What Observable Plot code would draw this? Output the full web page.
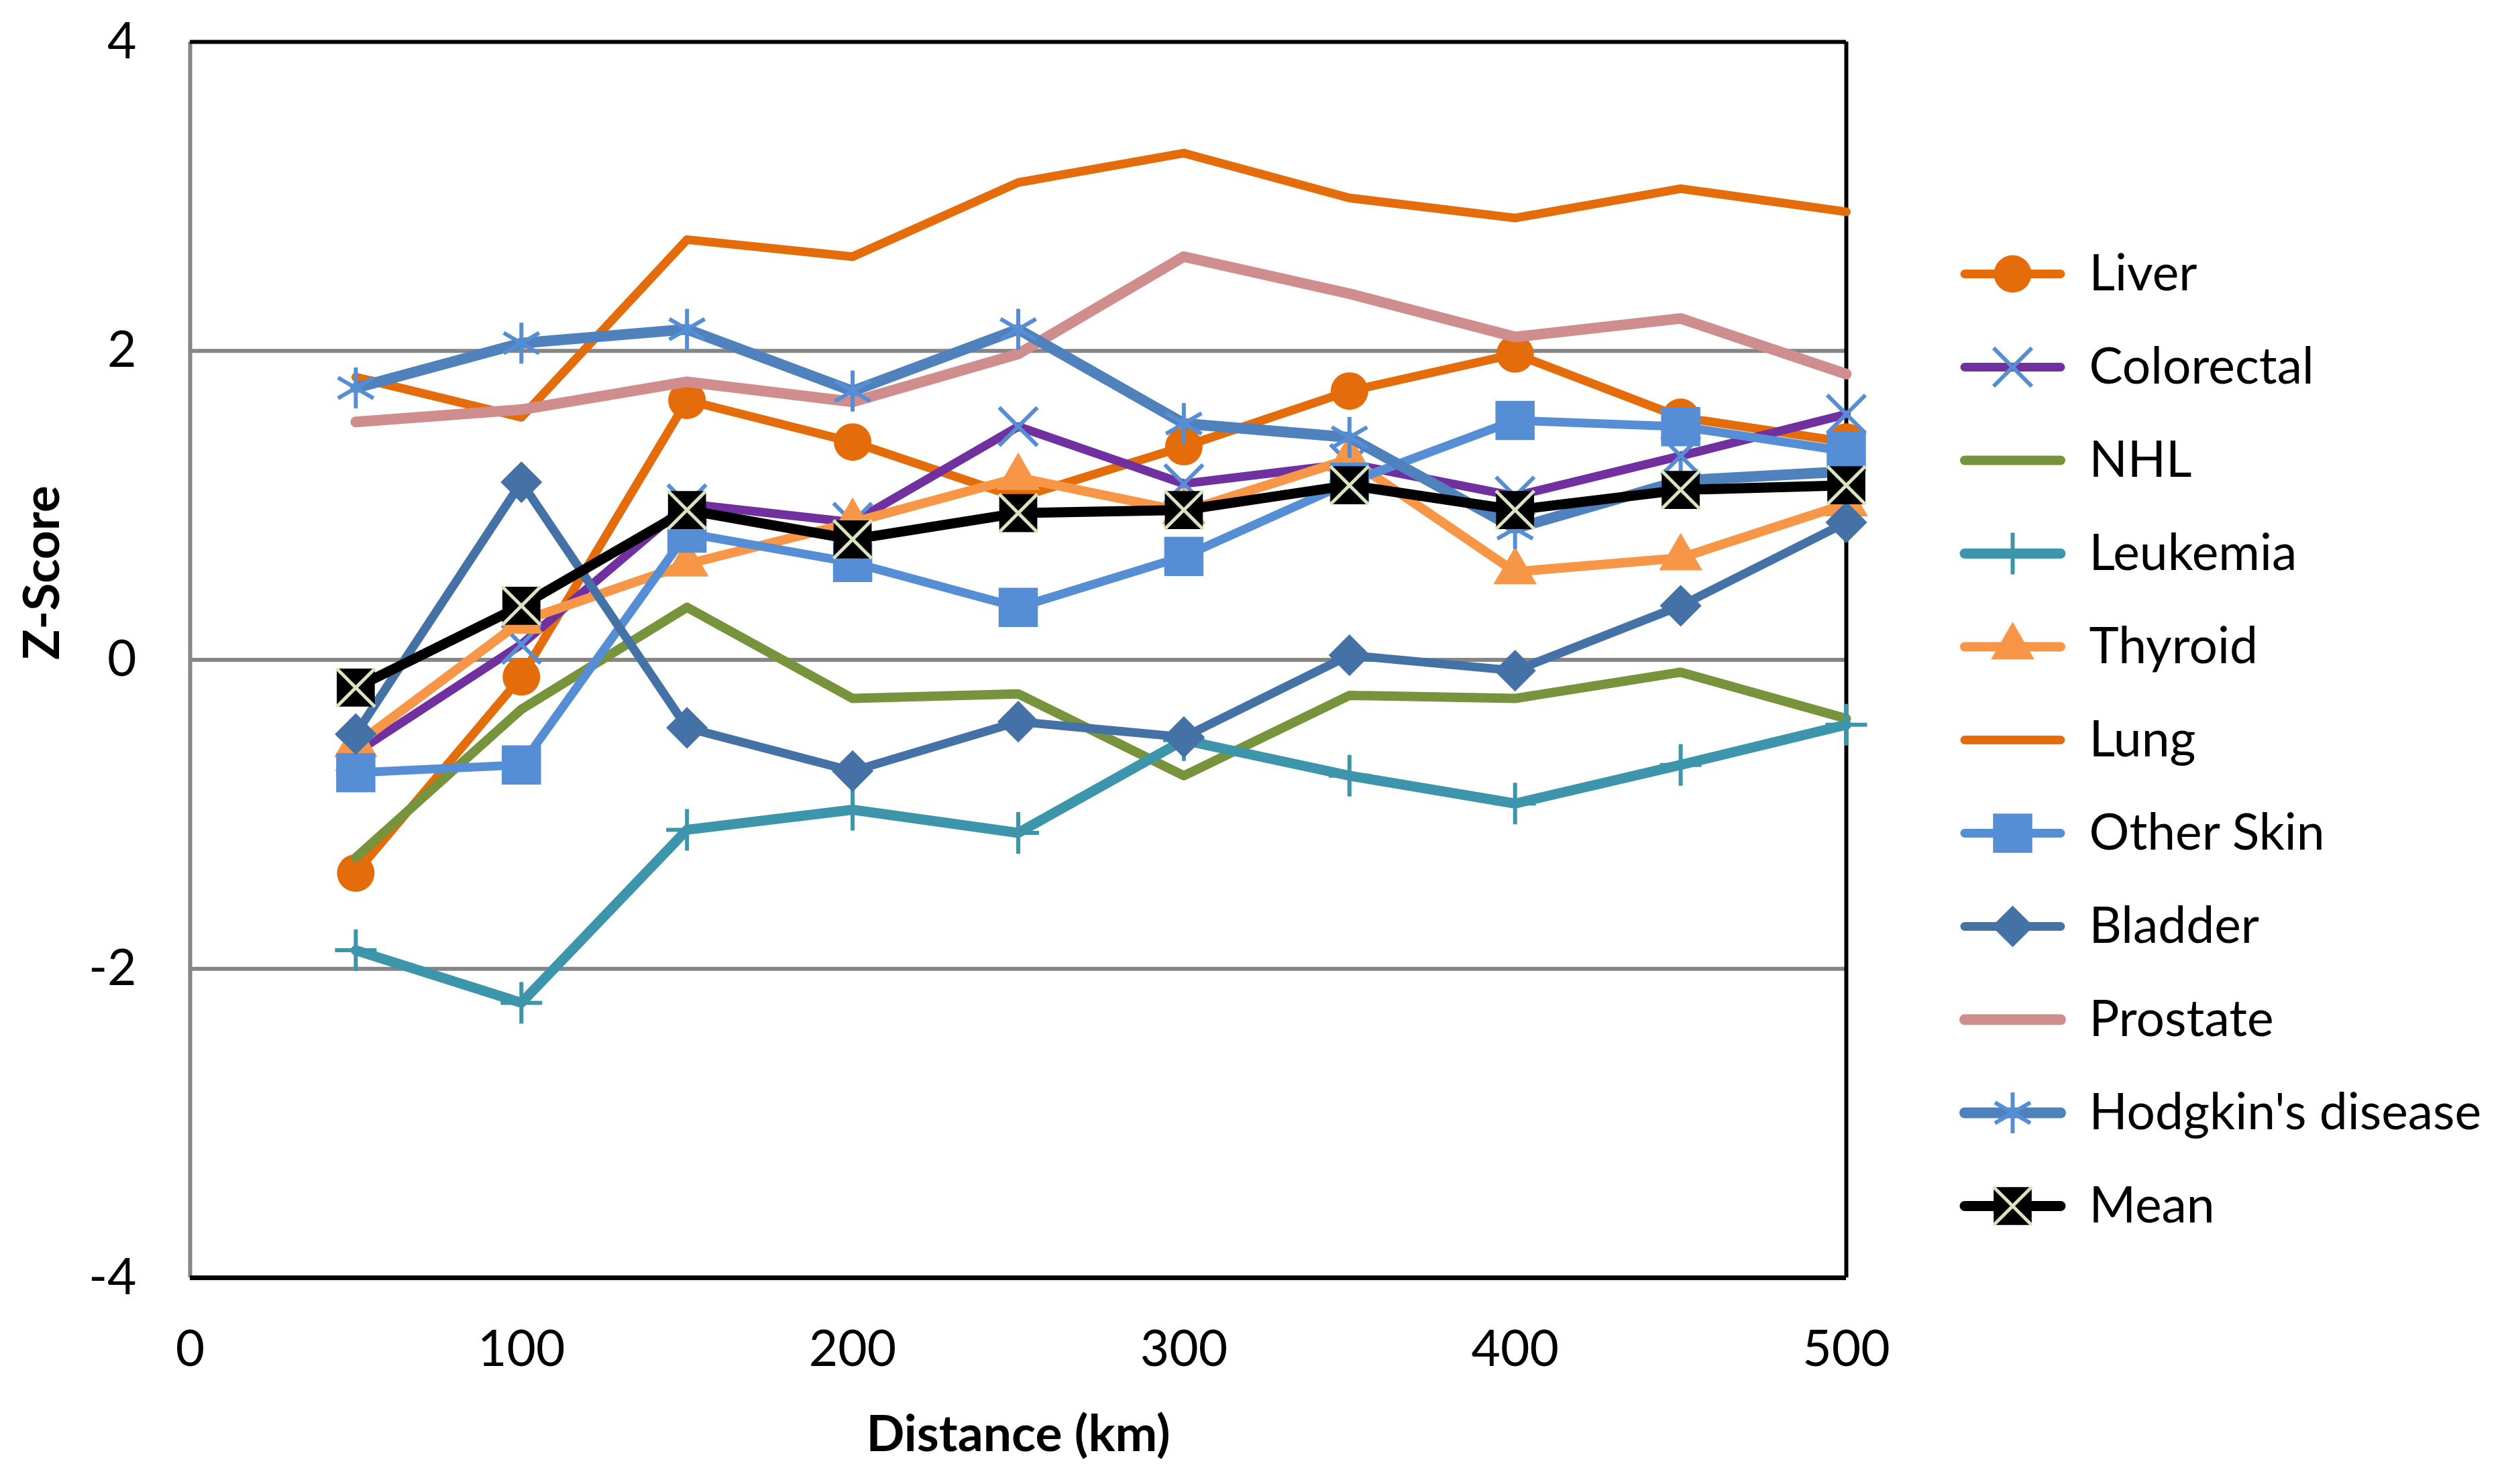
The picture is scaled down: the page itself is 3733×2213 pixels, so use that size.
<!DOCTYPE html>
<html><head><meta charset="utf-8">
<script src="https://cdn.jsdelivr.net/npm/d3@7"></script>
<script src="https://cdn.jsdelivr.net/npm/@observablehq/plot@0.6"></script>
<style>
body{margin:0;background:#fff;}
#wrap{position:relative;width:3733px;height:2213px;background:#fff;}
#legend{position:absolute;left:2920px;top:338px;}
#chart{position:absolute;left:0;top:0;}
</style></head><body><div id="wrap"><div id="chart"></div><div id="legend"></div></div>
<script>
// ---- data ----
const distances = [50, 100, 150, 200, 250, 300, 350, 400, 450, 500];
const liver      = [-1.38, -0.11, 1.68, 1.41, 1.05, 1.38, 1.74, 1.98, 1.57, 1.41];
const colorectal = [-0.60, 0.10, 1.01, 0.89, 1.51, 1.14, 1.27, 1.06, 1.32, 1.59];
const nhl        = [-1.28, -0.32, 0.34, -0.25, -0.22, -0.75, -0.23, -0.25, -0.08, -0.38];
const leukemia   = [-1.88, -2.22, -1.10, -0.97, -1.12, -0.52, -0.75, -0.93, -0.68, -0.42];
const thyroid    = [-0.55, 0.25, 0.62, 0.89, 1.18, 0.96, 1.30, 0.57, 0.66, 1.01];
const lung       = [1.83, 1.57, 2.72, 2.61, 3.09, 3.28, 2.99, 2.86, 3.05, 2.90];
const otherSkin  = [-0.73, -0.68, 0.82, 0.63, 0.34, 0.67, 1.15, 1.55, 1.51, 1.35];
const bladder    = [-0.48, 1.15, -0.44, -0.72, -0.40, -0.50, 0.03, -0.07, 0.35, 0.89];
const prostate   = [1.54, 1.62, 1.80, 1.67, 1.98, 2.61, 2.37, 2.09, 2.21, 1.85];
const hodgkins   = [1.76, 2.05, 2.14, 1.74, 2.14, 1.53, 1.44, 0.85, 1.16, 1.22];
const mean       = [-0.18, 0.35, 0.97, 0.78, 0.95, 0.97, 1.13, 0.97, 1.10, 1.13];

const seriesNames = ["Liver", "Colorectal", "NHL", "Leukemia", "Thyroid", "Lung", "Other Skin", "Bladder", "Prostate", "Hodgkin's disease", "Mean"];
const seriesValues = [liver, colorectal, nhl, leukemia, thyroid, lung, otherSkin, bladder, prostate, hodgkins, mean];
const xTicks = [0, 100, 200, 300, 400, 500];
const yTicks = [-4, -2, 0, 2, 4];
const gridValues = [-2, 0, 2];
const xTitle = "Distance (km)";
const yTitle = "Z-Score";

// ---- styles ----
const styles = {
  "Liver":             {color: "#E46C0A", w: 13, marks: [{symbol: "circle", r: 28, fill: "#E46C0A"}]},
  "Colorectal":        {color: "#7030A0", w: 13, marks: [{symbol: "times", r: 26, stroke: "#558ED5", sw: 6}]},
  "NHL":               {color: "#77933C", w: 14, marks: []},
  "Leukemia":          {color: "#3D95AC", w: 15, marks: [{symbol: "plus", r: 20, stroke: "#3D95AC", sw: 6}]},
  "Thyroid":           {color: "#F79646", w: 14, marks: [{symbol: "triangle", r: 24, fill: "#F79646"}]},
  "Lung":              {color: "#E46C0A", w: 13, marks: []},
  "Other Skin":        {color: "#558ED5", w: 13, marks: [{symbol: "square", r: 33, fill: "#558ED5"}]},
  "Bladder":           {color: "#4471A6", w: 13, marks: [{symbol: "diamond2", r: 28, fill: "#4471A6"}]},
  "Prostate":          {color: "#D08D8D", w: 16, marks: []},
  "Hodgkin's disease": {color: "#4F81BD", w: 16, marks: [{symbol: "asterisk", r: 29, stroke: "#558ED5", sw: 6}]},
  "Mean":              {color: "#000000", w: 15, marks: [{symbol: "square", r: 32, fill: "#000000"}, {symbol: "times", r: 26, stroke: "#D7E4BD", sw: 5}]}
};

const rows = seriesNames.flatMap((name, i) => distances.map((d, j) => ({name, d, z: seriesValues[i][j]})));

const FONT = "Lato, 'Open Sans', 'DejaVu Sans', sans-serif";

function markerMarks(data, xAcc, yAcc, m) {
  if (m.fill) return Plot.dot(data, {x: xAcc, y: yAcc, symbol: m.symbol, r: m.r, fill: m.fill, stroke: "none"});
  return Plot.dot(data, {x: xAcc, y: yAcc, symbol: m.symbol, r: m.r, fill: "none", stroke: m.stroke, strokeWidth: m.sw});
}

const seriesMarks = seriesNames.flatMap(name => {
  const s = styles[name];
  const data = rows.filter(r => r.name === name);
  return [
    Plot.line(data, {x: "d", y: "z", stroke: s.color, strokeWidth: s.w, strokeLinejoin: "round", strokeLinecap: "round"}),
    ...s.marks.map(m => markerMarks(data, "d", "z", m))
  ];
});

const chart = Plot.plot({
  width: 3733, height: 2213,
  marginLeft: 283, marginRight: 981, marginTop: 62, marginBottom: 308,
  style: {fontFamily: FONT, fontSize: "75px", color: "#000", background: "transparent"},
  x: {domain: [0, 500]},
  y: {domain: [-4, 4]},
  marks: [
    Plot.ruleY(gridValues, {stroke: "#868686", strokeWidth: 6}),
    Plot.ruleX([0], {stroke: "#868686", strokeWidth: 6}),
    Plot.ruleY([4], {stroke: "#000", strokeWidth: 6}),
    Plot.ruleX([500], {stroke: "#000", strokeWidth: 6}),
    Plot.ruleY([-4], {stroke: "#000", strokeWidth: 7}),
    Plot.axisX({ticks: xTicks, tickSize: 0, tickPadding: 78, label: null, tickFormat: d => String(d)}),
    Plot.axisY({ticks: yTicks, tickSize: 0, tickPadding: 80, label: null, tickFormat: d => String(d)}),
    ...seriesMarks,
    Plot.text([xTitle], {frameAnchor: "bottom", dy: 258, fontWeight: "bold", fontSize: 75}),
    Plot.text([yTitle], {frameAnchor: "left", dx: -220, rotate: -90, fontWeight: "bold", fontSize: 75})
  ]
});
document.getElementById("chart").appendChild(chart);

// ---- legend ----
const legendMarks = seriesNames.flatMap(name => {
  const s = styles[name];
  return [
    Plot.ruleY([name], {x1: 9, x2: 152, stroke: s.color, strokeWidth: s.w, strokeLinecap: "round"}),
    ...s.marks.map(m => markerMarks([name], () => 80, d => d, m))
  ];
});
const legend = Plot.plot({
  width: 813, height: 1529,
  margin: 0,
  style: {fontFamily: FONT, fontSize: "75px", color: "#000", background: "transparent", overflow: "visible"},
  x: {domain: [0, 813], range: [0, 813], axis: null},
  y: {type: "point", domain: seriesNames, padding: 0.5, axis: null},
  marks: [
    ...legendMarks,
    Plot.text(seriesNames, {x: () => 194, y: d => d, text: d => d, textAnchor: "start", fontSize: 75})
  ]
});
document.getElementById("legend").appendChild(legend);
</script>
</body></html>
